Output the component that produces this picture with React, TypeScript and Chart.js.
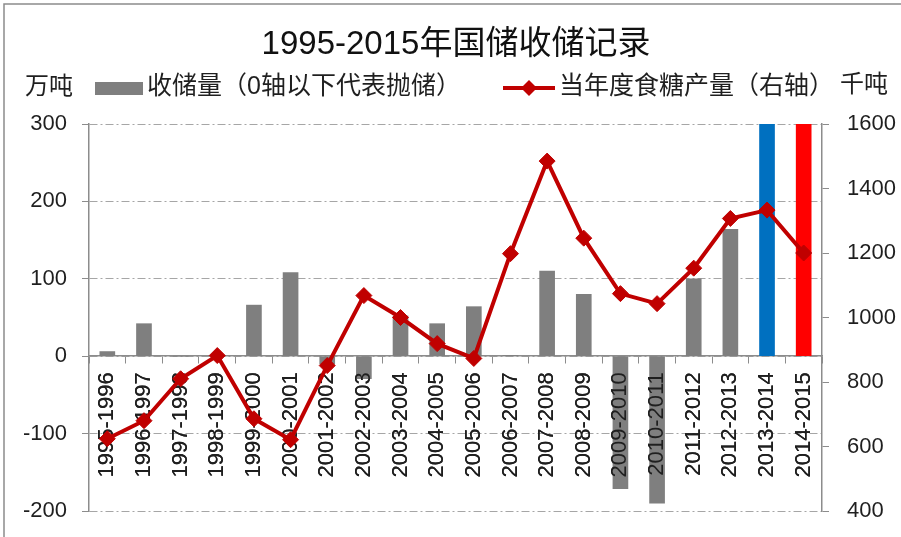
import { useEffect, useRef } from "react";
import { Chart, registerables } from "chart.js";

Chart.register(...registerables);

// ---- data ----
const categories = [
  "1995-1996", "1996-1997", "1997-1998", "1998-1999", "1999-2000",
  "2000-2001", "2001-2002", "2002-2003", "2003-2004", "2004-2005",
  "2005-2006", "2006-2007", "2007-2008", "2008-2009", "2009-2010",
  "2010-2011", "2011-2012", "2012-2013", "2013-2014", "2014-2015",
];
// 收储量 (万吨), negative = 抛储
const reserveVolume = [6, 42, 0, 0, 66, 108, -10, -29, 52, 42, 64, 1, 110, 80, -171, -190, 100, 164, 300, 300];
// 当年度食糖产量 (右轴)
const sugarOutput = [624, 680, 810, 882, 686, 621, 851, 1068, 1000, 919, 873, 1198, 1485, 1246, 1074, 1043, 1153, 1307, 1333, 1200];

const leftAxisMin = -200;
const leftAxisMax = 300;
const leftAxisStep = 100;
const rightAxisMin = 400;
const rightAxisMax = 1600;
const rightAxisStep = 200;

const titleText = "1995-2015年国储收储记录";
const barLabel = "收储量（0轴以下代表抛储）";
const lineLabel = "当年度食糖产量（右轴）";
const leftUnit = "万吨";
const rightUnit = "千吨";

// ---- styles ----
const FONT = '"Liberation Sans", "Noto Sans CJK SC", sans-serif';
const BAR_GRAY = "#7f7f7f";
const highlightColors: Record<string, string> = { "2013-2014": "#0070C0", "2014-2015": "#FF0000" };
const LINE_RED = "#C00000";
const GRID = "#a6a6a6";
const AXIS = "#8c8c8c";
const TEXT = "#1f1f1f";

const decorPlugin = {
  id: "decor",
  afterDatasetDraw(chart: any, args: any) {
    // category labels sit above the bars but below the line (as in the original)
    if (args.index === 1) {
      chart.scales.x.drawLabels(chart.chartArea);
    }
  },
  afterDraw(chart: any) {
    const ctx: CanvasRenderingContext2D = chart.ctx;
    ctx.save();
    // outer frame (top and left visible)
    ctx.strokeStyle = "#8c8c8c";
    ctx.lineWidth = 1.5;
    ctx.beginPath();
    ctx.moveTo(4, chart.height + 2);
    ctx.lineTo(4, 4);
    ctx.lineTo(chart.width + 2, 4);
    ctx.stroke();

    // title
    ctx.fillStyle = "#111";
    ctx.font = `33px ${FONT}`;
    ctx.textAlign = "center";
    ctx.textBaseline = "middle";
    ctx.fillText(titleText, 456, 45);

    // legend row
    const ly = 87;
    ctx.textAlign = "left";
    ctx.fillStyle = TEXT;
    ctx.font = `24px ${FONT}`;
    ctx.fillText(leftUnit, 25, ly);

    const barDs = chart.data.datasets[1];
    ctx.fillStyle = BAR_GRAY;
    ctx.fillRect(95, ly - 5, 48, 13);
    ctx.fillStyle = TEXT;
    ctx.font = `25px ${FONT}`;
    ctx.fillText(barDs.label, 147, ly);

    const lineDs = chart.data.datasets[0];
    ctx.strokeStyle = lineDs.borderColor;
    ctx.lineWidth = 4;
    ctx.beginPath();
    ctx.moveTo(503, ly + 1);
    ctx.lineTo(555, ly + 1);
    ctx.stroke();
    ctx.fillStyle = lineDs.borderColor;
    ctx.beginPath();
    ctx.moveTo(529, ly + 1 - 8);
    ctx.lineTo(537, ly + 1);
    ctx.lineTo(529, ly + 1 + 8);
    ctx.lineTo(521, ly + 1);
    ctx.closePath();
    ctx.fill();
    ctx.fillStyle = TEXT;
    ctx.font = `25px ${FONT}`;
    ctx.fillText(lineDs.label, 559, ly);

    ctx.font = `24px ${FONT}`;
    ctx.fillText(rightUnit, 840, ly - 2);
    ctx.restore();
  },
};

export default function App() {
  const ref = useRef<HTMLCanvasElement>(null);

  useEffect(() => {
    if (!ref.current) return;
    const chart = new Chart(ref.current, {
      type: "bar",
      data: {
        labels: categories,
        datasets: [
          {
            type: "line",
            label: lineLabel,
            data: sugarOutput,
            yAxisID: "y1",
            borderColor: LINE_RED,
            backgroundColor: LINE_RED,
            borderWidth: 4,
            tension: 0,
            pointStyle: "rectRot",
            pointRadius: 8,
            pointBorderWidth: 1,
            pointBackgroundColor: LINE_RED,
            pointBorderColor: LINE_RED,
            order: 0,
            clip: false as any,
          } as any,
          {
            type: "bar",
            label: barLabel,
            data: reserveVolume,
            yAxisID: "y",
            backgroundColor: categories.map((c) => highlightColors[c] || BAR_GRAY),
            barThickness: 15,
            order: 1,
            clip: 0 as any,
          } as any,
        ],
      },
      options: {
        responsive: false,
        animation: false,
        devicePixelRatio: 1,
        layout: { padding: { top: 124, bottom: 26, left: 0, right: 0 } },
        plugins: {
          legend: { display: false },
          title: { display: false },
          tooltip: { enabled: false },
        },
        scales: {
          x: {
            position: { y: 0 } as any,
            offset: true,
            grid: {
              display: true,
              drawOnChartArea: false,
              drawTicks: true,
              tickLength: 7,
              color: AXIS,
              tickColor: AXIS,
            },
            border: { display: true, color: AXIS, width: 1.5 },
            ticks: {
              autoSkip: false,
              minRotation: 90,
              maxRotation: 90,
              padding: 9,
              color: TEXT,
              font: { family: FONT, size: 22 },
            },
          },
          y: {
            position: "left",
            min: leftAxisMin,
            max: leftAxisMax,
            afterFit: (s: any) => {
              s.width = 89;
              s.paddingTop = 0;
              s.paddingBottom = 0;
            },
            grid: {
              color: GRID,
              lineWidth: 1,
              drawTicks: true,
              tickLength: 7,
              tickColor: AXIS,
              tickBorderDash: [],
            },
            border: { display: true, color: AXIS, width: 1.5, dash: [8, 3, 2, 3] },
            ticks: {
              stepSize: leftAxisStep,
              padding: 15,
              color: TEXT,
              font: { family: FONT, size: 22 },
              callback: (v: any) => String(v),
            },
          },
          y1: {
            position: "right",
            min: rightAxisMin,
            max: rightAxisMax,
            afterFit: (s: any) => {
              s.width = 79;
              s.paddingTop = 0;
              s.paddingBottom = 0;
            },
            grid: {
              drawOnChartArea: false,
              drawTicks: true,
              tickLength: 7,
              tickColor: AXIS,
            },
            border: { display: true, color: AXIS, width: 1.5 },
            ticks: {
              stepSize: rightAxisStep,
              padding: 18,
              color: TEXT,
              font: { family: FONT, size: 22 },
              callback: (v: any) => String(v),
            },
          },
        },
      },
      plugins: [decorPlugin],
    });
    return () => chart.destroy();
  }, []);

  return (
    <div style={{ position: "fixed", left: 0, top: 0, width: 901, height: 537, background: "#fff" }}>
      <canvas ref={ref} width={901} height={537} style={{ display: "block" }} />
    </div>
  );
}
